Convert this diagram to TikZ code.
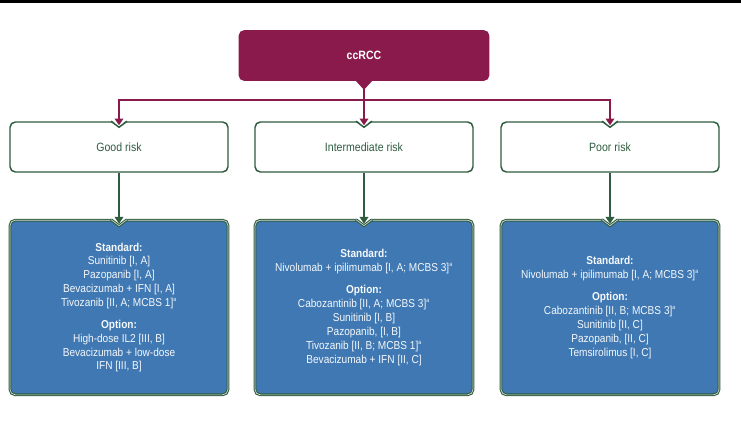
\documentclass[tikz,border=0pt]{standalone}
\usepackage{fontspec}
\setmainfont{Liberation Sans}[FakeStretch=0.88]
\usetikzlibrary{arrows.meta}
\definecolor{ccmaroon}{HTML}{8A1A4B}
\definecolor{riskgreen}{HTML}{2F5C3F}
\definecolor{txblue}{HTML}{3F78B3}
\tikzset{
  rootbox/.style={fill=ccmaroon, rounded corners=4pt, minimum width=188pt,
    minimum height=38pt, text=white, font=\fontsize{9}{11}\selectfont\bfseries},
  riskline/.style={draw=riskgreen, line width=1.1pt},
  riskbox/.style={riskline, fill=white, rounded corners=4pt, minimum width=163.5pt,
    minimum height=37.5pt, text=riskgreen, font=\fontsize{9}{11}\selectfont},
  txline/.style={draw=riskgreen, line width=0.8pt, double=white!80!riskgreen,
    double distance=0.5pt},
  txbox/.style={txline, fill=txblue, rounded corners=4pt, minimum width=163.5pt,
    minimum height=131pt, text=white!95!txblue, align=center,
    font=\fontsize{8.6}{10.4}\selectfont},
  maglink/.style={draw=ccmaroon, line width=1pt},
  greenlink/.style={draw=riskgreen, line width=1pt,
    -{Triangle[length=5pt,width=6.5pt]}},
}
\newcommand{\topnotch}[2]{%
  \fill[white] ([xshift=-6pt,yshift=1.6pt]#1.north) -- ([xshift=6pt,yshift=1.6pt]#1.north)
    -- ([yshift=-4.5pt]#1.north) -- cycle;
  \draw[#2] ([xshift=-6pt]#1.north) -- ([yshift=-4.5pt]#1.north) -- ([xshift=6pt]#1.north);}
\newcommand{\supa}{\textsuperscript{\fontsize{4.5}{5}\selectfont a}}
\newcommand{\grpgap}{\\[6pt]}
\begin{document}
\begin{tikzpicture}[x=0.75pt,y=-0.75pt]
  \useasboundingbox (0,0) rectangle (741,432);
  \fill[black] (0,0) rectangle (741,3);
  % root and bus
  \node[rootbox] (root) at (364,55.5) {ccRCC};
  \fill[ccmaroon] ([xshift=-6pt]root.south) -- ([yshift=-6.5pt]root.south)
    -- ([xshift=6pt]root.south) -- cycle;
  \coordinate (bus) at (364,100);
  % risk groups
  \node[riskbox] (good) at (119,147) {Good risk};
  \node[riskbox] (inter) at (364,147) {Intermediate risk};
  \node[riskbox] (poor) at (610,147) {Poor risk};
  % treatments
  \node[txbox] (good-tx) at (119,307.5) {\textbf{Standard:}\\ Sunitinib [I, A]\\
    Pazopanib [I, A]\\ Bevacizumab + IFN [I, A]\\ Tivozanib [II, A; MCBS 1]\supa\grpgap
    \textbf{Option:}\\ High-dose IL2 [III, B]\\ Bevacizumab + low-dose\\ IFN [III, B]};
  \node[txbox] (inter-tx) at (364,307.5) {\textbf{Standard:}\\
    Nivolumab + ipilimumab [I, A; MCBS 3]\supa\grpgap
    \textbf{Option:}\\ Cabozantinib [II, A; MCBS 3]\supa\\ Sunitinib [I, B]\\
    Pazopanib, [I, B]\\ Tivozanib [II, B; MCBS 1]\supa\\ Bevacizumab + IFN [II, C]};
  \node[txbox] (poor-tx) at (610,307.5) {\textbf{Standard:}\\
    Nivolumab + ipilimumab [I, A; MCBS 3]\supa\grpgap
    \textbf{Option:}\\ Cabozantinib [II, B; MCBS 3]\supa\\ Sunitinib [II, C]\\
    Pazopanib, [II, C]\\ Temsirolimus [I, C]};
  \foreach \n in {good,inter,poor} {
    \topnotch{\n}{riskline}
    \topnotch{\n-tx}{txline}
    \draw[greenlink] (\n.south) -- ([yshift=-3pt]\n-tx.north);
  }
  % connectors from root
  \draw[maglink] ([yshift=-6pt]root.south) -- (bus);
  \draw[maglink,-{Triangle[length=5pt,width=6.5pt]}] (bus) -| ([yshift=-3pt]good.north);
  \draw[maglink,-{Triangle[length=5pt,width=6.5pt]}] (bus) -- ([yshift=-3pt]inter.north);
  \draw[maglink,-{Triangle[length=5pt,width=6.5pt]}] (bus) -| ([yshift=-3pt]poor.north);
\end{tikzpicture}
\end{document}
